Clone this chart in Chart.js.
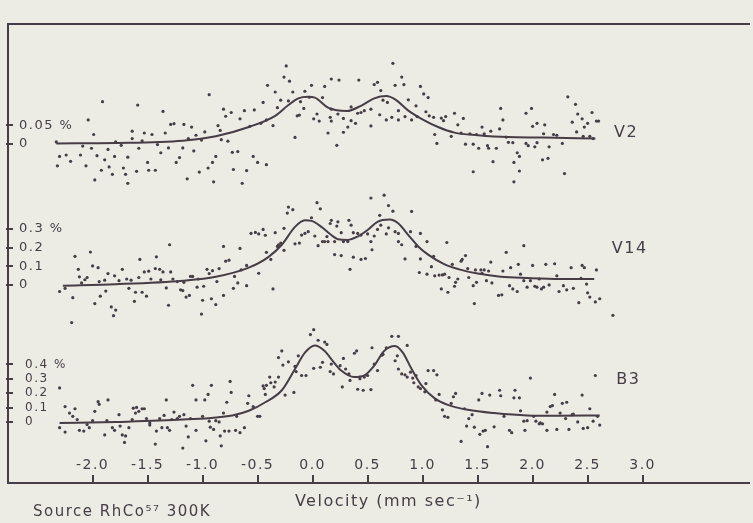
<!DOCTYPE html>
<html>
<head>
<meta charset="utf-8">
<script src="https://cdn.jsdelivr.net/npm/chart.js@4.4.1/dist/chart.umd.min.js"></script>
<style>
html,body{margin:0;padding:0;background:#ecebe4;}
#wrap{width:753px;height:523px;}
</style>
</head>
<body>
<div id="wrap"><canvas id="c" width="753" height="523"></canvas></div>
<script>
// ---- tick labels ----
const velocityTicks = [-2.0, -1.5, -1.0, -0.5, 0.0, 0.5, 1.0, 1.5, 2.0, 2.5, 3.0];
const velocityTickLabels = ['-2.0', '-1.5', '-1.0', '-0.5', '0.0', '0.5', '1.0', '1.5', '2.0', '2.5', '3.0'];
const v2TickValues = [0, 0.05];
const v2TickLabels = ['0', '0.05 %'];
const v14TickValues = [0, 0.1, 0.2, 0.3];
const v14TickLabels = ['0', '0.1', '0.2', '0.3 %'];
const b3TickValues = [0, 0.1, 0.2, 0.3, 0.4];
const b3TickLabels = ['0', '0.1', '0.2', '0.3', '0.4 %'];
const seriesNames = ['V2', 'V14', 'B3'];

// ---- V2: [velocity mm/s, absorption %] ----
const v2Points = [
[-2.33,0.005],[-2.30,-0.034],[-2.32,-0.059],[-2.24,-0.030],[-2.20,-0.047],[-2.11,-0.030],[-2.09,-0.006],[-2.06,-0.059],
[-2.04,0.064],[-2.01,-0.012],[-1.99,0.025],[-1.98,-0.097],[-1.96,-0.032],[-1.92,-0.071],[-1.91,0.113],[-1.89,-0.043],
[-1.86,-0.015],[-1.85,-0.062],[-1.82,-0.082],[-1.80,-0.034],[-1.79,0.005],[-1.74,-0.004],[-1.72,-0.065],[-1.70,-0.082],
[-1.68,-0.106],[-1.68,-0.036],[-1.64,0.034],[-1.64,0.014],[-1.60,-0.074],[-1.59,0.104],[-1.58,-0.012],[-1.55,0.008],
[-1.53,0.029],[-1.50,-0.050],[-1.49,-0.071],[-1.46,0.025],[-1.43,-0.071],[-1.41,-0.002],[-1.38,-0.024],[-1.36,0.087],
[-1.34,0.029],[-1.31,-0.011],[-1.29,0.052],[-1.26,0.054],[-1.24,-0.050],[-1.21,-0.037],[-1.18,-0.011],[-1.17,0.052],
[-1.14,-0.094],[-1.13,0.014],[-1.10,0.045],[-1.08,-0.019],[-1.06,0.023],[-1.03,-0.076],[-1.01,0.010],[-0.98,0.032],
[-0.94,0.132],[-0.95,-0.065],[-0.91,-0.050],[-0.90,-0.102],[-0.88,-0.034],[-0.86,0.049],[-0.84,0.036],[-0.83,0.011],
[-0.81,0.093],[-0.79,0.074],[-0.77,0.007],[-0.74,0.084],[-0.73,-0.023],[-0.72,-0.069],[-0.68,-0.021],[-0.66,0.067],
[-0.64,-0.106],[-0.62,0.089],[-0.60,-0.072],[-0.57,0.047],[-0.54,-0.034],[-0.53,0.091],[-0.50,-0.050],[-0.47,0.055],
[-0.45,0.111],[-0.42,0.064],[-0.42,-0.056],[-0.41,0.157],[-0.36,0.049],[-0.34,0.139],[-0.32,0.097],[-0.29,0.117],
[-0.26,0.179],[-0.24,0.209],[-0.22,0.115],[-0.21,0.168],[-0.18,0.139],[-0.16,0.017],[-0.14,0.075],[-0.12,0.077],
[-0.11,0.113],[-0.08,0.095],[-0.07,0.141],[-0.03,0.125],[-0.01,0.157],[0.01,0.067],[0.04,0.080],[0.06,0.061],
[0.09,0.124],[0.11,0.154],
[0.17,0.174],[0.24,0.171],[0.42,0.171],[0.17,0.093],[0.16,0.071],[0.17,0.061],[0.14,0.029],[0.22,-0.004],
[0.23,0.080],[0.28,0.068],[0.28,0.031],[0.32,0.045],[0.35,0.099],[0.35,0.062],[0.39,0.055],[0.41,0.082],
[0.44,0.084],[0.47,0.089],[0.53,0.093],[0.53,0.048],[0.56,0.159],[0.59,0.165],[0.62,0.143],[0.61,0.078],
[0.64,0.117],[0.67,0.064],[0.68,0.111],[0.72,0.071],[0.73,0.216],[0.75,0.157],[0.78,0.089],[0.78,0.064],
[0.81,0.179],[0.83,0.159],[0.84,0.073],[0.87,0.118],[0.90,0.064],[0.94,0.102],[0.95,0.073],[0.98,0.154],
[1.01,0.134],[1.03,0.086],[1.05,0.124],[1.06,0.075],[1.10,0.071],[1.11,0.025],[1.13,0.001],[1.17,0.069],
[1.19,0.062],[1.21,0.073],[1.26,0.020],[1.29,0.082],[1.32,0.051],[1.35,0.029],[1.37,0.068],[1.39,-0.001],
[1.43,0.027],[1.46,-0.075],[1.46,-0.001],[1.49,0.025],[1.51,-0.012],[1.54,0.045],[1.56,0.027],[1.59,-0.005],
[1.60,-0.012],[1.62,0.034],[1.64,-0.048],[1.67,-0.012],[1.70,0.040],[1.71,0.095],[1.73,0.064],[1.76,0.018],
[1.78,0.004],[1.82,0.003],[1.83,-0.050],[1.83,-0.102],[1.86,-0.024],[1.88,-0.034],[1.88,-0.073],[1.94,0.082],
[1.94,0.001],[1.96,-0.005],[1.99,0.095],[2.00,0.047],[2.02,-0.008],[2.04,0.003],[2.04,0.055],[2.09,-0.043],
[2.10,0.027],[2.11,0.051],[2.15,-0.008],[2.14,-0.039],[2.19,0.025],[2.22,0.023],[2.27,0.001],[2.29,-0.080],
[2.32,0.126],[2.36,0.058],[2.39,0.106],[2.40,0.032],[2.41,0.080],[2.45,0.067],[2.47,0.045],[2.46,0.020],
[2.50,0.055],[2.52,0.020],[2.54,0.084],[2.55,0.014],[2.58,0.061],[2.60,0.061]
];
const v2Fit = [
[-2.33,0.001],[-1.79,0.002],[-1.18,0.008],[-0.88,0.020],[-0.58,0.045],[-0.34,0.075],[-0.22,0.104],[-0.13,0.122],
[-0.04,0.126],[0.02,0.124],[0.14,0.097],[0.22,0.090],[0.31,0.088],[0.44,0.102],[0.56,0.122],[0.67,0.128],
[0.75,0.119],[0.87,0.089],[0.99,0.067],[1.14,0.045],[1.29,0.030],[1.50,0.023],[1.77,0.018],[2.10,0.017],[2.57,0.014]
];

// ---- V14 ----
const v14Points = [
[-2.30,-0.035],[-2.25,-0.018],[-2.18,-0.068],[-2.19,-0.202],[-2.16,0.154],[-2.13,0.084],[-2.12,0.044],[-2.10,0.011],
[-2.07,0.028],[-2.05,0.040],[-2.02,0.177],[-2.00,0.102],[-1.98,-0.100],[-1.95,0.093],[-1.93,-0.060],[-1.94,0.018],
[-1.89,0.026],[-1.88,-0.033],[-1.86,0.061],[-1.83,-0.118],[-1.81,-0.165],[-1.79,-0.135],[-1.80,0.049],[-1.76,0.023],
[-1.73,0.084],[-1.69,0.032],[-1.67,-0.018],[-1.65,0.026],[-1.62,-0.088],[-1.61,-0.039],[-1.58,0.040],[-1.57,0.137],
[-1.55,-0.039],[-1.53,0.070],[-1.51,-0.060],[-1.49,0.074],[-1.47,0.032],[-1.43,0.088],[-1.42,0.151],[-1.39,0.084],
[-1.38,0.028],[-1.36,0.070],[-1.33,-0.016],[-1.31,-0.109],[-1.30,0.216],[-1.29,0.070],[-1.27,0.032],[-1.23,0.018],
[-1.20,-0.026],[-1.18,-0.030],[-1.17,0.014],[-1.15,-0.065],[-1.12,-0.056],[-1.11,0.046],[-1.09,0.046],[-1.05,-0.012],
[-1.04,0.032],[-1.01,-0.156],[-1.00,-0.082],[-0.99,-0.007],[-0.96,0.084],[-0.94,0.061],[-0.92,-0.074],[-0.91,0.077],
[-0.88,-0.105],[-0.87,0.018],[-0.85,0.088],[-0.81,0.207],[-0.81,-0.056],[-0.79,0.128],[-0.76,0.133],[-0.72,-0.018],
[-0.71,0.046],[-0.68,0.011],[-0.66,0.196],[-0.65,0.081],[-0.60,-0.004],[-0.60,0.105],[-0.56,0.277],[-0.52,0.282],
[-0.49,0.274],[-0.49,0.063],[-0.45,0.298],[-0.43,0.267],[-0.42,0.175],[-0.38,0.137],[-0.36,-0.021],[-0.34,0.281],
[-0.32,0.207],[-0.31,0.216],[-0.29,0.225],[-0.26,0.186],[-0.26,0.304],[-0.23,0.386],[-0.22,0.418],[-0.18,0.404],
[-0.16,0.221],[-0.12,0.225],[-0.10,0.268],[-0.07,0.277],[-0.04,0.286],[-0.01,0.361],[0.02,0.263],[0.04,0.442],
[0.05,0.211],[0.07,0.409],[0.09,0.233],[0.11,0.233],[0.13,0.260],
[0.16,0.330],[0.17,0.347],[0.23,0.339],[0.22,0.316],[0.14,0.233],[0.20,0.233],[0.26,0.281],[0.28,0.233],
[0.20,0.163],[0.26,0.158],[0.33,0.347],[0.35,0.321],[0.32,0.233],[0.34,0.084],[0.37,0.281],[0.37,0.149],
[0.41,0.277],[0.44,0.137],[0.44,0.268],[0.48,0.142],[0.50,0.274],[0.53,0.467],[0.53,0.233],[0.54,0.189],
[0.56,0.263],[0.59,0.298],[0.61,0.374],[0.62,0.321],[0.65,0.482],[0.67,0.274],[0.69,0.426],[0.69,0.307],
[0.73,0.396],[0.75,0.286],[0.78,0.277],[0.78,0.233],[0.81,0.216],[0.84,0.140],[0.89,0.286],[0.90,0.395],
[0.94,0.207],[0.97,0.067],[0.98,0.140],[0.98,0.277],[1.04,0.058],[1.04,0.233],[1.08,0.098],[1.10,0.154],
[1.11,0.049],[1.15,0.053],[1.17,-0.021],[1.18,0.054],[1.20,0.058],[1.22,0.228],[1.23,-0.039],[1.24,0.040],
[1.27,0.111],[1.29,-0.007],[1.30,0.014],[1.32,0.032],[1.35,0.128],[1.36,0.137],[1.39,0.158],[1.41,0.088],
[1.42,0.040],[1.46,-0.004],[1.47,-0.100],[1.48,0.081],[1.49,0.014],[1.53,0.081],[1.54,0.063],[1.56,0.081],
[1.58,0.023],[1.60,0.075],[1.62,0.123],[1.63,0.011],[1.69,-0.056],[1.72,-0.053],[1.73,0.075],[1.76,0.175],
[1.79,-0.004],[1.80,0.093],[1.82,-0.021],[1.86,-0.035],[1.87,0.111],[1.89,0.058],[1.92,0.211],[1.92,0.023],
[1.95,-0.012],[1.98,0.023],[2.00,0.105],[2.02,-0.007],[2.04,-0.012],[2.06,0.032],[2.08,-0.021],[2.10,-0.012],
[2.12,0.111],[2.15,0.000],[2.20,0.114],[2.22,0.049],[2.24,-0.035],[2.28,-0.004],[2.31,-0.026],[2.35,0.093],
[2.37,-0.018],[2.42,-0.095],[2.44,0.035],[2.45,0.105],[2.47,0.093],[2.49,0.005],[2.50,-0.042],[2.52,-0.065],
[2.57,-0.091],[2.58,0.081],[2.61,-0.074],[2.73,-0.163]
];
const v14Fit = [
[-2.27,-0.004],[-1.79,0.004],[-1.18,0.023],[-0.88,0.044],[-0.58,0.093],[-0.40,0.151],[-0.28,0.216],[-0.16,0.312],
[-0.07,0.347],[-0.01,0.344],[0.08,0.312],[0.17,0.268],[0.23,0.246],[0.32,0.242],[0.41,0.260],[0.50,0.295],
[0.59,0.339],[0.70,0.351],[0.78,0.330],[0.87,0.268],[0.96,0.207],[1.05,0.163],[1.20,0.111],[1.35,0.081],
[1.50,0.061],[1.71,0.044],[1.95,0.037],[2.25,0.032],[2.56,0.032]
];

// ---- B3 ----
const b3Points = [
[-2.30,0.237],[-2.30,-0.038],[-2.25,0.108],[-2.25,-0.068],[-2.21,0.063],[-2.18,0.041],[-2.16,0.093],[-2.14,0.018],
[-2.12,-0.056],[-2.08,-0.061],[-2.05,-0.016],[-2.03,-0.038],[-2.00,0.011],[-1.98,0.075],[-1.95,0.142],[-1.94,0.124],
[-1.89,-0.088],[-1.86,0.154],[-1.87,0.011],[-1.82,-0.038],[-1.80,-0.056],[-1.76,0.052],[-1.75,-0.027],[-1.73,-0.088],
[-1.71,-0.140],[-1.70,-0.095],[-1.67,-0.038],[-1.64,0.018],[-1.63,0.097],[-1.61,0.063],[-1.60,0.102],[-1.58,0.075],
[-1.55,0.093],[-1.53,0.093],[-1.51,0.025],[-1.48,-0.005],[-1.48,-0.020],[-1.43,-0.151],[-1.42,-0.061],[-1.39,0.025],
[-1.37,-0.038],[-1.35,0.047],[-1.33,0.154],[-1.32,-0.038],[-1.30,-0.056],[-1.28,0.018],[-1.26,0.070],[-1.23,0.025],
[-1.21,0.041],[-1.18,-0.179],[-1.17,0.052],[-1.15,-0.027],[-1.13,-0.102],[-1.11,0.025],[-1.09,0.255],[-1.06,-0.056],
[-1.06,0.154],[-1.00,0.041],[-0.98,0.154],[-0.97,-0.129],[-0.95,0.192],[-0.94,0.007],[-0.93,-0.034],[-0.92,0.255],
[-0.90,-0.050],[-0.88,0.011],[-0.85,0.002],[-0.84,-0.095],[-0.83,-0.163],[-0.81,0.063],[-0.80,-0.061],[-0.78,0.138],
[-0.76,-0.061],[-0.75,0.282],[-0.74,0.206],[-0.70,-0.056],[-0.69,0.041],[-0.66,-0.072],[-0.62,-0.038],[-0.59,0.131],
[-0.58,0.183],[-0.54,0.108],[-0.50,0.041],[-0.48,0.041],[-0.45,0.251],[-0.44,0.233],[-0.43,0.192],[-0.42,0.255],
[-0.39,0.312],[-0.38,0.273],[-0.35,0.244],[-0.34,0.278],[-0.31,0.312],[-0.31,0.447],[-0.28,0.493],[-0.27,0.395],
[-0.25,0.188],[-0.22,0.418],[-0.17,0.206],[-0.16,0.386],[-0.15,0.350],[-0.13,0.459],[-0.10,0.323],[-0.06,0.323],
[-0.02,0.606],[0.01,0.640],[0.01,0.373],[0.05,0.567],[0.07,0.380],[0.09,0.414],[0.11,0.554],[0.13,0.538],[0.17,0.402],
[0.16,0.350],[0.19,0.334],[0.25,0.391],[0.27,0.244],[0.28,0.441],[0.30,0.368],[0.33,0.334],[0.34,0.289],
[0.38,0.477],[0.40,0.493],[0.41,0.228],[0.43,0.301],[0.46,0.221],[0.47,0.312],[0.50,0.323],[0.53,0.226],
[0.54,0.515],[0.56,0.402],[0.59,0.357],[0.63,0.463],[0.64,0.470],[0.67,0.515],[0.72,0.594],[0.75,0.425],
[0.77,0.459],[0.78,0.594],[0.78,0.368],[0.81,0.334],[0.84,0.328],[0.86,0.531],[0.86,0.312],[0.89,0.346],
[0.91,0.305],[0.92,0.273],[0.94,0.323],[0.96,0.244],[0.98,0.233],[1.02,0.210],[1.03,0.267],[1.05,0.357],
[1.10,0.357],[1.13,0.328],[1.12,0.154],[1.15,0.192],[1.18,0.086],[1.20,0.041],[1.23,0.034],[1.26,0.131],
[1.28,0.176],[1.30,0.199],[1.35,-0.133],[1.38,0.093],[1.40,-0.027],[1.42,0.025],[1.45,0.052],[1.47,-0.034],
[1.51,0.154],[1.52,-0.084],[1.54,0.199],[1.55,-0.061],[1.57,-0.056],[1.59,-0.169],[1.61,0.188],[1.65,-0.032],
[1.70,0.221],[1.71,0.183],[1.74,0.041],[1.79,-0.056],[1.81,-0.072],[1.83,0.169],[1.84,0.221],[1.88,0.169],
[1.89,0.079],[1.92,0.007],[1.93,-0.056],[1.95,0.011],[1.98,0.305],[2.01,0.041],[2.03,0.007],[2.06,-0.011],
[2.07,-0.005],[2.09,-0.011],[2.13,-0.056],[2.13,0.070],[2.16,0.108],[2.18,0.115],[2.20,0.192],[2.22,-0.050],
[2.25,0.063],[2.27,0.131],[2.30,0.025],[2.31,0.138],[2.33,-0.050],[2.36,0.052],[2.37,0.056],[2.41,0.002],
[2.45,0.188],[2.46,-0.043],[2.50,-0.038],[2.52,0.093],[2.55,0.007],[2.57,0.323],[2.59,0.041],[2.61,-0.020]
];
const b3Fit = [
[-2.30,-0.005],[-1.79,0.002],[-1.18,0.018],[-0.73,0.047],[-0.58,0.079],[-0.43,0.138],[-0.28,0.221],[-0.16,0.368],
[-0.07,0.481],[0.02,0.531],[0.11,0.493],[0.17,0.436],[0.26,0.357],[0.38,0.312],[0.47,0.323],[0.56,0.391],
[0.65,0.493],[0.75,0.527],[0.82,0.481],[0.90,0.368],[0.99,0.255],[1.11,0.165],[1.23,0.120],[1.41,0.086],
[1.65,0.063],[1.95,0.047],[2.25,0.045],[2.61,0.047]
];

// ---- drawing ----
const ink = '#463d47';
const fam = '"DejaVu Sans", sans-serif';
const toXY = arr => arr.map(([x, y]) => ({x, y}));

function pointsDs(arr, axis) {
  return {data: toXY(arr), yAxisID: axis, xAxisID: 'x', showLine: false,
    pointRadius: 1.6, pointBorderWidth: 0, pointBackgroundColor: ink, backgroundColor: ink, borderColor: ink};
}
function fitDs(arr, axis) {
  return {data: toXY(arr), yAxisID: axis, xAxisID: 'x', showLine: true, pointRadius: 0,
    borderColor: ink, borderWidth: 2, cubicInterpolationMode: 'monotone', fill: false};
}
function yAxis(min, max, vals, labels, size, pad, showBorder) {
  return {
    type: 'linear', position: 'left', min, max,
    afterBuildTicks: s => { s.ticks = vals.map(v => ({value: v})); },
    afterFit: s => { s.width = 0; },
    ticks: {mirror: true, padding: pad, color: ink, font: {family: fam, size}, autoSkip: false,
      callback: (v, i) => labels[i]},
    grid: {display: false},
    border: {display: showBorder, color: ink, width: 2}
  };
}

// spaced lettering like the original stencil text, and inward tick marks
const letteringPlugin = {
  id: 'lettering',
  beforeDraw(chart) { chart.ctx.letterSpacing = '1.5px'; }
};
const tickMarksPlugin = {
  id: 'tickMarks',
  beforeDatasetsDraw(chart) {
    const ctx = chart.ctx;
    ctx.save();
    ctx.strokeStyle = ink;
    ctx.lineWidth = 2;
    ctx.beginPath();
    const xs = chart.scales.x;
    xs.ticks.forEach(t => {
      const px = Math.round(xs.getPixelForValue(t.value));
      ctx.moveTo(px, xs.top + 1);
      ctx.lineTo(px, xs.top - 8);
    });
    ['yV2', 'yV14', 'yB3'].forEach(id => {
      const ys = chart.scales[id];
      ys.ticks.forEach(t => {
        const py = Math.round(ys.getPixelForValue(t.value));
        ctx.moveTo(chart.chartArea.left - 2, py);
        ctx.lineTo(chart.chartArea.left + 5, py);
      });
    });
    ctx.stroke();
    ctx.restore();
  }
};
const seriesNamePlugin = {
  id: 'seriesNames',
  afterDatasetsDraw(chart, args, opts) {
    const ctx = chart.ctx;
    ctx.save();
    ctx.fillStyle = ink;
    ctx.font = '16px ' + fam;
    ctx.letterSpacing = '1.5px';
    ctx.textAlign = 'left';
    ctx.textBaseline = 'middle';
    opts.items.forEach(it => {
      const px = chart.scales.x.getPixelForValue(it.x);
      const py = chart.scales[it.axis].getPixelForValue(it.y);
      ctx.fillText(it.text, px, py);
    });
    ctx.restore();
  }
};

new Chart(document.getElementById('c'), {
  type: 'scatter',
  data: {
    datasets: [
      pointsDs(v2Points, 'yV2'), fitDs(v2Fit, 'yV2'),
      pointsDs(v14Points, 'yV14'), fitDs(v14Fit, 'yV14'),
      pointsDs(b3Points, 'yB3'), fitDs(b3Fit, 'yB3')
    ]
  },
  options: {
    responsive: false,
    animation: false,
    layout: {padding: {top: 15, left: 8, right: 0, bottom: 0}},
    plugins: {
      legend: {display: false},
      tooltip: {enabled: false},
      subtitle: {display: true, position: 'bottom', align: 'start', text: '    Source RhCo⁵⁷ 300K',
        color: ink, font: {family: fam, size: 15, weight: 'normal'}, padding: {top: 0, bottom: 2}},
      seriesNames: {items: [
        {text: seriesNames[0], axis: 'yV2', x: 2.74, y: 0.03},
        {text: seriesNames[1], axis: 'yV14', x: 2.72, y: 0.195},
        {text: seriesNames[2], axis: 'yB3', x: 2.76, y: 0.29}
      ]}
    },
    scales: {
      x: {
        type: 'linear', position: 'bottom', min: -2.769, max: 3.967,
        afterBuildTicks: s => { s.ticks = velocityTicks.map(v => ({value: v})); },
        afterFit: s => { s.height = 20; },
        ticks: {mirror: true, padding: 9, color: ink, font: {family: fam, size: 14}, autoSkip: false,
          maxRotation: 0, callback: (v, i) => velocityTickLabels[i]},
        grid: {display: false},
        border: {display: true, color: ink, width: 2},
        title: {display: true, text: '   Velocity (mm sec⁻¹)', color: ink, font: {family: fam, size: 16},
          padding: {top: 0, bottom: -8}}
      },
      xTop: {
        type: 'linear', position: 'top', min: -2.769, max: 3.967,
        afterFit: s => { s.height = 0; },
        ticks: {display: false},
        grid: {display: false, drawTicks: false},
        border: {display: true, color: ink, width: 2}
      },
      yV2: yAxis(-0.91053, 0.32105, v2TickValues, v2TickLabels, 13, 11, false),
      yV14: yAxis(-1.06316, 1.4, v14TickValues, v14TickLabels, 13, 11, false),
      yB3: yAxis(-0.42034, 2.75254, b3TickValues, b3TickLabels, 12, 17, true)
    }
  },
  plugins: [letteringPlugin, tickMarksPlugin, seriesNamePlugin]
});
</script>
</body>
</html>
